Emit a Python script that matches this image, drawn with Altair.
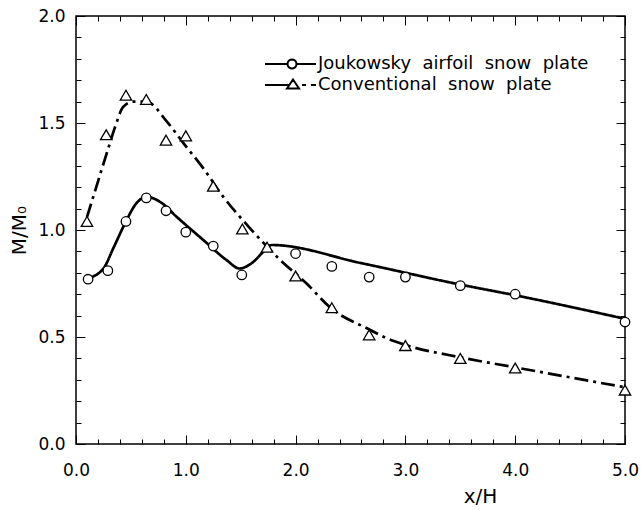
import math
import altair as alt
import pandas as pd

J_NAME = "Joukowsky\u00a0 airfoil\u00a0 snow\u00a0 plate"
C_NAME = "Conventional\u00a0 snow\u00a0 plate"

# measured points
j_x = [0.11, 0.29, 0.455, 0.64, 0.82, 1.0, 1.25, 1.51, 2.0, 2.33, 2.67, 3.0, 3.5, 4.0, 5.0]
j_y = [0.77, 0.81, 1.04, 1.15, 1.09, 0.99, 0.925, 0.79, 0.89, 0.83, 0.78, 0.78, 0.74, 0.70, 0.57]
c_x = [0.1, 0.275, 0.455, 0.64, 0.82, 1.0, 1.25, 1.515, 1.74, 2.0, 2.33, 2.67, 3.0, 3.5, 4.0, 5.0]
c_y = [1.04, 1.445, 1.63, 1.61, 1.42, 1.44, 1.205, 1.005, 0.92, 0.785, 0.637, 0.51, 0.46, 0.40, 0.355, 0.252]

# fitted curves
jc_x = [0.11, 0.25, 0.34, 0.45, 0.55, 0.645, 0.77, 0.92, 1.16, 1.37, 1.49, 1.6, 1.74, 1.78, 2.6, 3.5, 4.0, 5.0]
jc_y = [0.775, 0.82, 0.915, 1.035, 1.125, 1.155, 1.13, 1.06, 0.953, 0.86, 0.82, 0.845, 0.915, 0.93, 0.845, 0.745, 0.695, 0.585]
cc_x = [0.1, 0.19, 0.29, 0.355, 0.43, 0.52, 0.64, 0.83, 0.98, 1.16, 1.34, 1.585, 1.86, 2.1, 2.31, 2.68, 2.83, 3.0, 3.5, 4.0, 5.0]
cc_y = [1.06, 1.21, 1.375, 1.48, 1.575, 1.60, 1.60, 1.505, 1.405, 1.288, 1.156, 1.008, 0.86, 0.75, 0.64, 0.533, 0.494, 0.463, 0.405, 0.358, 0.265]

x_ticks = [0, 0.2, 0.4, 0.6, 0.8, 1, 1.2, 1.4, 1.6, 1.8, 2, 2.2, 2.4, 2.6, 2.8, 3,
           3.2, 3.4, 3.6, 3.8, 4, 4.2, 4.4, 4.6, 4.8, 5]
y_ticks = [0, 0.1, 0.2, 0.3, 0.4, 0.5, 0.6, 0.7, 0.8, 0.9, 1, 1.1, 1.2, 1.3, 1.4, 1.5,
           1.6, 1.7, 1.8, 1.9, 2]

points = pd.concat([
    pd.DataFrame({"series": J_NAME, "x": j_x, "y": j_y}),
    pd.DataFrame({"series": C_NAME, "x": c_x, "y": c_y}),
])
curves = pd.concat([
    pd.DataFrame({"series": J_NAME, "x": jc_x, "y": jc_y, "i": range(len(jc_x))}),
    pd.DataFrame({"series": C_NAME, "x": cc_x, "y": cc_y, "i": range(len(cc_x))}),
])

W, H = 549, 428
FONT = "DejaVu Sans"

xs = alt.Scale(domain=[0, 5], nice=False, zero=False)
ys = alt.Scale(domain=[0, 2], nice=False, zero=False)

x_axis = alt.Axis(
    values=x_ticks, title="x/H", titleFont=FONT, titleFontSize=20, titleFontWeight="normal",
    titleColor="black", titleX=404, titleY=52, titleBaseline="middle", titleAlign="center",
    labelFont=FONT, labelFontSize=17, labelColor="black", labelPadding=18, labelFlush=False,
    labelOverlap=False, labelBound=False,
    labelExpr="datum.value % 1 === 0 ? format(datum.value, '.1f') : ''",
    ticks=False, domain=False, grid=True, gridColor="black", gridOpacity=1, gridWidth=1,
    gridDash={"condition": {"test": "datum.value % 1 === 0", "value": [9, H - 18, 9]},
              "value": [5, H - 10, 5]},
)
y_axis = alt.Axis(
    values=y_ticks, title="M/M\u2080", titleFont=FONT, titleFontSize=20, titleFontWeight="normal",
    titleColor="black", titleX=-57, titleY=H / 2, titleBaseline="middle", titleAlign="center",
    labelFont=FONT, labelFontSize=17, labelColor="black", labelPadding=11, labelFlush=False,
    labelOverlap=False, labelBound=False,
    labelExpr="datum.value % 0.5 === 0 ? format(datum.value, '.1f') : ''",
    ticks=False, domain=False, grid=True, gridColor="black", gridOpacity=1, gridWidth=1,
    gridDash={"condition": {"test": "datum.value % 0.5 === 0", "value": [9, W - 18, 9]},
              "value": [5, W - 10, 5]},
)

# legend keys: line + marker drawn as one symbol path (unit = 5 px)
circ = "".join(
    ("M" if k == 0 else "L") + f"{0.9 * math.cos(2 * math.pi * k / 20):.3f},{0.9 * math.sin(2 * math.pi * k / 20):.3f}"
    for k in range(20)
) + "Z"
PATH_J = "M-5.4,0L-0.9,0M0.9,0L4.8,0" + circ
PATH_C = "M-5.4,0L-0.55,0M2.0,0L2.8,0M3.8,0L4.8,0M0.2,-1.1L1.4,0.7L-1.0,0.7Z"

legend = alt.Legend(
    title=None, orient="none", legendX=207, legendY=39, padding=0,
    symbolSize=100, symbolStrokeWidth=2, symbolStrokeColor="black", symbolFillColor="white",
    symbolOpacity=1, labelLimit=500,
    labelFont=FONT, labelFontSize=18, labelColor="black", labelOffset=17, rowPadding=2,
)

lines = alt.Chart(curves).mark_line(
    color="black", strokeWidth=2.7, interpolate="monotone", strokeJoin="round"
).encode(
    order="i:Q",
    strokeDash=alt.StrokeDash("series:N",
                              scale=alt.Scale(domain=[J_NAME, C_NAME], range=[[1, 0], [14, 5, 3, 5]]),
                              legend=None),
)

marks = alt.Chart(points).mark_point(
    filled=True, fill="white", stroke="black", strokeWidth=1.3, opacity=1
).encode(
    shape=alt.Shape("series:N", scale=alt.Scale(domain=[J_NAME, C_NAME], range=["circle", "triangle-up"]),
                    legend=None),
    size=alt.Size("series:N", scale=alt.Scale(domain=[J_NAME, C_NAME], range=[90, 130]), legend=None),
)

legend_layer = alt.Chart(points).transform_filter("false").mark_point(
    filled=False, color="black", strokeWidth=2
).encode(
    shape=alt.Shape("series:N", scale=alt.Scale(domain=[J_NAME, C_NAME], range=[PATH_J, PATH_C]),
                    legend=legend),
)

chart = alt.layer(lines, marks, legend_layer).encode(
    x=alt.X("x:Q", scale=xs, axis=x_axis),
    y=alt.Y("y:Q", scale=ys, axis=y_axis),
).resolve_scale(shape="independent").properties(
    width=W, height=H, autosize="none",
    padding={"left": 76, "top": 16, "right": 16, "bottom": 66},
    background="white",
).configure_view(stroke="black", strokeWidth=1.5)

chart.save("out.html", embed_options={"renderer": "svg", "actions": False})
